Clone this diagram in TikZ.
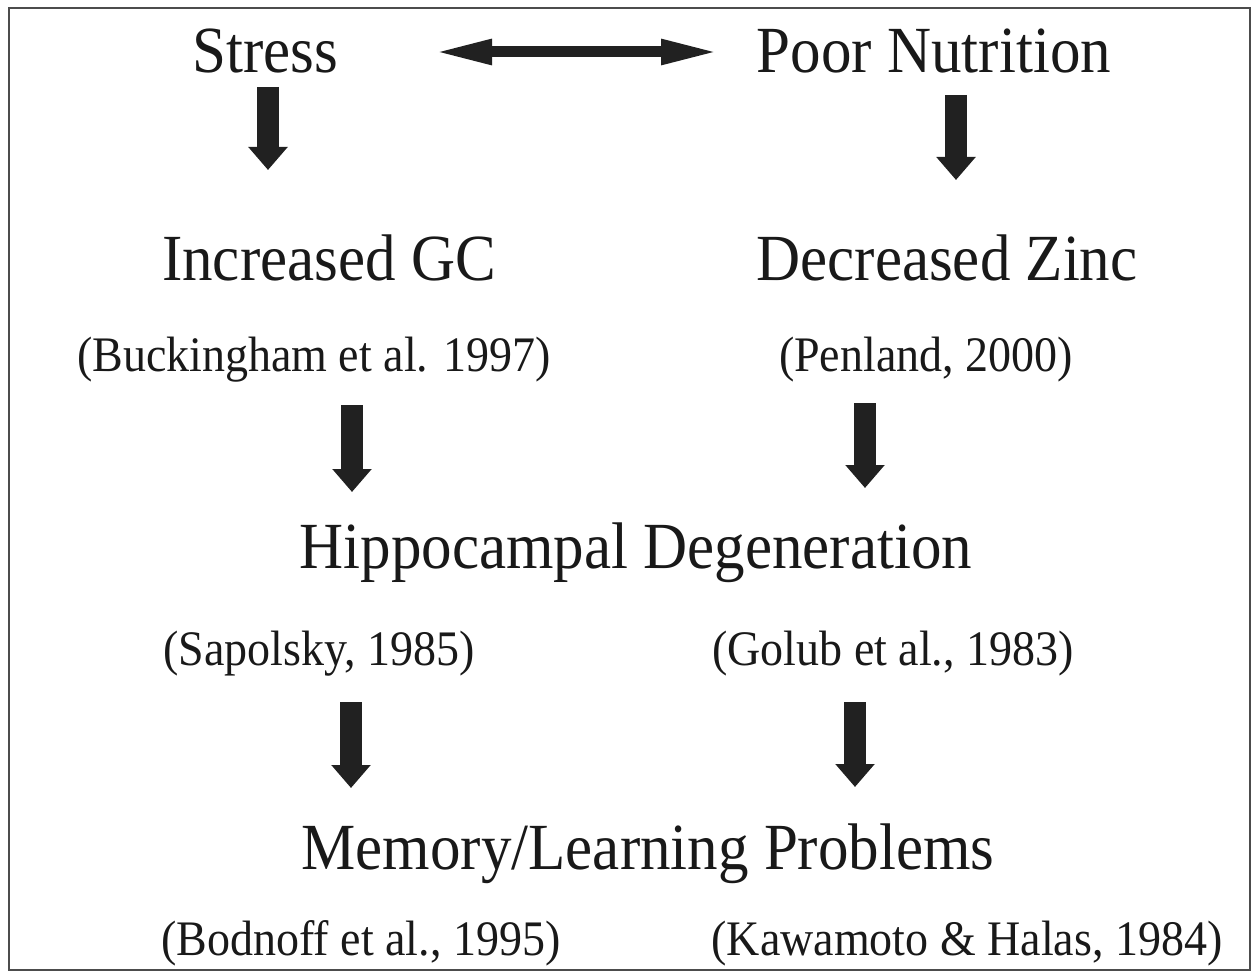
\documentclass[tikz,border=0pt]{standalone}
\usepackage{fontspec}
\setmainfont{Liberation Serif}
\usetikzlibrary{arrows.meta}
\newcommand{\tall}[1]{\scalebox{1}[1.08]{#1}}
\begin{document}
\begin{tikzpicture}[x=1pt,y=-1pt,
  big/.style={anchor=base,inner sep=0pt,font=\fontsize{61}{70}\selectfont,text=black!90},
  cite/.style={anchor=base,inner sep=0pt,font=\fontsize{46}{54}\selectfont,text=black!90},
  fatarrow/.style={line width=22pt,draw=black!87,-{Triangle[length=23pt 0,width=38pt 0]}},
  dblarrow/.style={line width=11pt,draw=black!87,{Triangle[length=59pt 0,width=23pt 0]}-{Triangle[length=59pt 0,width=23pt 0]}}]
\useasboundingbox (0,0) rectangle (1256,971);
\draw[black!70,line width=1.5pt] (9,8) rectangle (1250,970);
% texts
\node[big] (stress) at (265,73) {\tall{Stress}};
\node[big] (poor) at (934,73) {\tall{Poor Nutrition}};
\node[big] (gc) at (329,280) {\tall{Increased GC}};
\node[big] (zinc) at (947,280) {\tall{Decreased Zinc}};
\node[cite] (buck) at (314,371) {\tall{(Buckingham et al. 1997)}};
\node[cite] (pen) at (926,371) {\tall{(Penland, 2000)}};
\node[big] (hippo) at (636,568) {\tall{Hippocampal Degeneration}};
\node[cite] (sap) at (319,665) {\tall{(Sapolsky, 1985)}};
\node[cite] (gol) at (893,665) {\tall{(Golub et al., 1983)}};
\node[big] (mem) at (648,869) {\tall{Memory/Learning Problems}};
\node[cite] (bod) at (361,955) {\tall{(Bodnoff et al., 1995)}};
\node[cite] (kaw) at (967,955) {\tall{(Kawamoto \& Halas, 1984)}};
% arrow endpoints
\coordinate (dl) at (433,52);
\coordinate (dr) at (720,52);
\coordinate (a1s) at (268,87);  \coordinate (a1e) at (268,170);
\coordinate (a2s) at (956,95);  \coordinate (a2e) at (956,180);
\coordinate (a3s) at (352,405); \coordinate (a3e) at (352,492);
\coordinate (a4s) at (865,403); \coordinate (a4e) at (865,488);
\coordinate (a5s) at (351,702); \coordinate (a5e) at (351,788);
\coordinate (a6s) at (855,702); \coordinate (a6e) at (855,787);
% arrows
\draw[dblarrow] (dl) -- (dr);
\draw[fatarrow] (a1s) -- (a1e);
\draw[fatarrow] (a2s) -- (a2e);
\draw[fatarrow] (a3s) -- (a3e);
\draw[fatarrow] (a4s) -- (a4e);
\draw[fatarrow] (a5s) -- (a5e);
\draw[fatarrow] (a6s) -- (a6e);
\end{tikzpicture}
\end{document}
